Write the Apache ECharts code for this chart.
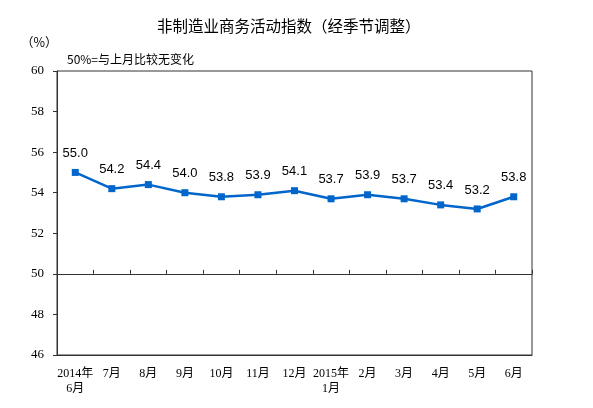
<!DOCTYPE html>
<html>
<head>
<meta charset="utf-8">
<script src="https://cdn.jsdelivr.net/npm/echarts@6/dist/echarts.min.js"></script>
<style>
    html, body { margin: 0; padding: 0; background: #fff; }
    #chart { width: 593px; height: 408px; }
</style>
</head>
<body>
<div id="chart"></div>
<script>
const MONTHS = [
    '2014年\n6月', '7月', '8月', '9月', '10月', '11月', '12月',
    '2015年\n1月', '2月', '3月', '4月', '5月', '6月',
];
const INDEX_VALUES = [55.0, 54.2, 54.4, 54.0, 53.8, 53.9, 54.1, 53.7, 53.9, 53.7, 53.4, 53.2, 53.8];
const Y_MIN = 46;
const Y_MAX = 60;
const Y_STEP = 2;
const BASELINE = 50;

const GRID = { left: 57, right: 61, top: 71, bottom: 53 };
const plotH = 408 - GRID.top - GRID.bottom;
// pixel distance from the bottom of the plot up to the 50% line
const baseOffset = plotH * (BASELINE - Y_MIN) / (Y_MAX - Y_MIN);

const SERIF = '"Liberation Serif", "Noto Sans CJK SC", serif';
const CJK = '"Noto Sans CJK SC", sans-serif';

const chart = echarts.init(document.getElementById('chart'));

chart.setOption({
    animation: false,
    backgroundColor: '#fff',
    graphic: [
        { type: 'text', left: 157, top: 18,
          style: { text: '非制造业商务活动指数（经季节调整）', font: '15.5px ' + CJK, fill: '#000' } },
        { type: 'text', left: 21, top: 36,
          style: { text: '（%）', font: '12.5px ' + CJK, fill: '#000' } },
        { type: 'text', left: 67, top: 53,
          style: { text: '50%=与上月比较无变化', font: '12px ' + CJK, fill: '#000' } },
    ],
    grid: {
        ...GRID,
        show: true,
        borderColor: '#333',
        borderWidth: 1,
    },
    xAxis: [
        {
            type: 'category',
            data: MONTHS,
            boundaryGap: true,
            axisLine: { show: true, lineStyle: { color: '#333', width: 1 } },
            axisTick: { show: false },
            axisLabel: {
                interval: 0,
                margin: 11,
                color: '#000',
                fontSize: 12,
                fontFamily: SERIF,
                lineHeight: 15,
            },
        },
        {
            // the 50% line with its small upward ticks
            type: 'category',
            data: MONTHS,
            position: 'bottom',
            offset: -baseOffset,
            boundaryGap: true,
            axisLine: { show: true, lineStyle: { color: '#333', width: 1.2 } },
            axisTick: { show: true, inside: true, length: 4, interval: 0, lineStyle: { color: '#333' } },
            axisLabel: { show: false },
        },
    ],
    yAxis: {
        type: 'value',
        min: Y_MIN,
        max: Y_MAX,
        interval: Y_STEP,
        axisLine: { show: true, lineStyle: { color: '#333', width: 1 } },
        axisTick: { show: true, length: 4, lineStyle: { color: '#333' } },
        splitLine: { show: false },
        axisLabel: {
            margin: 13,
            color: '#000',
            fontSize: 13,
            fontFamily: SERIF,
        },
    },
    series: [{
        type: 'line',
        data: INDEX_VALUES,
        xAxisIndex: 0,
        symbol: 'rect',
        symbolSize: 7,
        lineStyle: { color: '#0066cc', width: 2.5 },
        itemStyle: { color: '#0066cc' },
        label: {
            show: true,
            position: 'top',
            distance: 9,
            color: '#000',
            fontSize: 13,
            fontFamily: '"Liberation Sans", Arial, sans-serif',
            formatter: p => p.value.toFixed(1),
        },
    }],
});
</script>
</body>
</html>
